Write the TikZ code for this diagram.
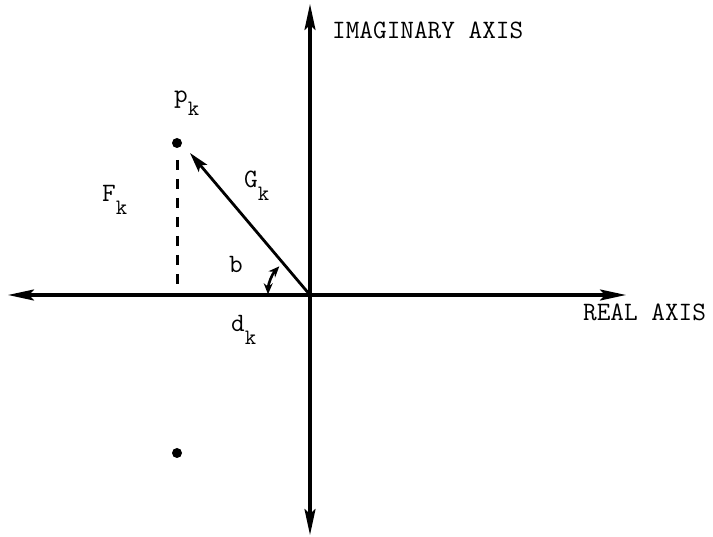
\documentclass[tikz,border=0pt]{standalone}
\usepackage{fontspec}
\usetikzlibrary{arrows.meta}
\newcommand{\subk}[1]{\raisebox{-13pt}{\fontsize{22}{22}\selectfont #1}}
\newcommand{\tw}{\ttfamily\addfontfeatures{FakeBold=1.2}\fontsize{26.5}{26.5}\selectfont}
\begin{document}
\begin{tikzpicture}[x=1pt,y=-1pt,
  axis/.style={line width=3.2pt,-{Stealth[length=26pt,width=11pt,inset=5pt]}},
  vec/.style={line width=2.8pt,-{Stealth[length=20pt,width=11pt,inset=4pt]}},
  lbl/.style={inner sep=0pt,anchor=base west,font=\tw},
  axlbl/.style={inner sep=0pt,anchor=west,font=\tw},
  pt/.style={circle,fill=black,inner sep=0pt,minimum size=10pt}]
\useasboundingbox (0,0) rectangle (713,537);
\coordinate (O) at (310,295);
\coordinate (L) at (8,295);
\coordinate (R) at (626,295);
\coordinate (T) at (310,4);
\coordinate (B) at (310,535);
\coordinate (Gtip) at (190,153);
\coordinate (Dtop) at (177,160);
\coordinate (Dbot) at (177,285);
\draw[axis] (O) -- (L);
\draw[axis] (O) -- (R);
\draw[axis] (O) -- (T);
\draw[axis] (O) -- (B);
\draw[vec] (O) -- (Gtip);
\draw[line width=3pt,dash pattern=on 10pt off 9pt] (Dtop) -- (Dbot);
\node[pt] (p1) at (177,143) {};
\node[pt] (p2) at (177,453) {};
\draw[line width=2.6pt,{Stealth[length=11pt,width=9pt]}-{Stealth[length=11pt,width=9pt]}]
  ([shift={(181:42)}]O) arc[start angle=181,end angle=223,radius=42];
\node[lbl] (pk) at (174,103) {p\subk{k}};
\node[lbl] (Fk) at (102,202) {F\subk{k}};
\node[lbl] (Gk) at (244,188) {G\subk{k}};
\node[lbl] (b) at (229,273) {b};
\node[lbl] (dk) at (231,332) {d\subk{k}};
\node[axlbl] (ia) at (332,30) {IMAGINARY AXIS};
\node[axlbl] (ra) at (583,312) {REAL AXIS};
\end{tikzpicture}
\end{document}
